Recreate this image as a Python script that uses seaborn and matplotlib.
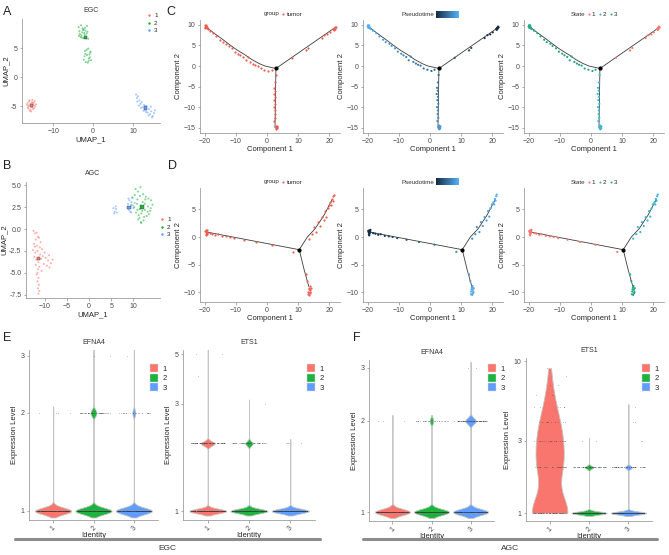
import numpy as np
import pandas as pd
import matplotlib
matplotlib.use("Agg")
import matplotlib.pyplot as plt
from matplotlib.colors import LinearSegmentedColormap, Normalize
from matplotlib.cm import ScalarMappable
from matplotlib.lines import Line2D
from matplotlib.patches import Patch
from matplotlib.ticker import NullLocator
import seaborn as sns

W, H = 669, 555
ids = ["1", "2", "3"]
cluster_colors = {"1": "#F8766D", "2": "#1DB33E", "3": "#619CFF"}
state_colors = {"1": "#F8766D", "2": "#35B9D5", "3": "#22A884"}
tumor_red = "#EE5A4E"

# ---- UMAP EGC (A)
egc_c1_x = [-16.5, -16.2, -16.0, -15.8, -15.6, -15.4, -15.2, -15.0, -14.8, -14.5, -14.3, -16.3,
            -15.9, -15.5, -15.1, -14.7, -16.1, -15.7, -15.3, -14.9, -15.6, -15.2, -16.4, -14.6]
egc_c1_y = [-4.8, -5.4, -4.2, -5.8, -4.6, -5.1, -3.9, -5.5, -4.4, -5.0, -4.7, -5.2,
            -4.0, -5.9, -4.5, -5.3, -4.9, -5.6, -4.3, -4.8, -5.0, -5.2, -4.5, -4.1]
egc_c2_x = [-3.6, -3.3, -3.0, -2.8, -2.5, -2.2, -2.0, -1.7, -1.4, -1.2, -3.4, -2.9, -2.4, -1.9,
            -1.5, -3.1, -2.6, -2.1, -1.6, -3.5, -2.7, -2.3,
            -2.3, -2.0, -1.8, -1.5, -1.2, -1.0, -0.7, -0.5, -2.1, -1.6, -1.3, -0.9, -0.6, -1.9, -1.1, -0.8]
egc_c2_y = [8.6, 7.4, 8.9, 6.8, 8.1, 7.6, 8.5, 7.0, 7.8, 6.6, 7.9, 7.2, 6.7, 8.0,
            8.8, 6.9, 8.4, 7.3, 7.5, 7.1, 7.7, 8.2,
            3.0, 4.5, 2.6, 3.8, 4.9, 3.2, 4.2, 2.9, 3.6, 4.7, 2.5, 3.9, 4.4, 4.0, 2.8, 3.4]
egc_c3_x = [10.8, 11.0, 11.3, 11.1, 11.6, 11.9, 12.2, 12.5, 12.8, 13.1, 13.4, 13.7, 14.0,
            14.3, 14.6, 15.0, 15.3, 12.0, 12.7, 13.3, 13.9, 14.5, 11.5, 15.5, 14.8]
egc_c3_y = [-3.0, -3.6, -3.3, -4.2, -4.0, -4.6, -4.3, -5.2, -4.8, -5.6, -5.0, -6.1, -5.5,
            -6.4, -5.9, -6.7, -6.2, -5.3, -5.8, -6.0, -6.6, -5.1, -4.9, -5.7, -6.9]

# ---- UMAP AGC (B)
agc_c1_x = [-12.5, -12.2, -11.8, -11.5, -12.0, -11.3, -10.9, -12.4, -11.7, -11.1, -10.6, -12.6,
            -12.1, -11.6, -11.0, -10.4, -9.8, -9.2, -8.6, -8.2, -12.3, -11.9, -11.4, -10.8,
            -10.2, -9.5, -8.9, -12.0, -11.5, -11.2, -10.7, -11.8, -11.4, -11.6, -11.3, -11.5,
            -11.2, -11.4, -11.6, -12.2, -10.0, -9.0]
agc_c1_y = [-0.2, -0.5, -0.4, -0.9, -1.2, -1.0, -1.5, -1.7, -1.9, -2.1, -2.3, -2.4,
            -2.7, -2.5, -2.9, -3.1, -3.3, -3.6, -3.9, -3.5, -3.2, -3.5, -3.8, -3.4,
            -4.0, -4.2, -4.4, -4.1, -4.6, -4.3, -4.8, -5.2, -5.6, -6.0, -6.4, -6.8,
            -7.1, -7.4, -5.0, -2.0, -2.7, -3.0]
agc_c2_x = [10.5, 11.0, 11.6, 12.2, 12.8, 13.4, 14.0, 14.3, 9.8, 10.3, 10.9, 11.5, 12.1,
            12.7, 13.3, 13.9, 9.5, 10.2, 10.8, 11.4, 12.0, 12.6, 13.2, 13.8, 10.6, 11.2,
            11.8, 12.4, 13.0, 11.1, 11.7, 12.3, 11.4, 12.0, 10.9, 12.6, 13.5, 11.8]
agc_c2_y = [4.6, 4.3, 4.8, 4.0, 3.7, 3.5, 3.3, 2.8, 3.6, 3.9, 3.4, 3.8, 3.1,
            3.4, 2.6, 2.4, 2.8, 2.5, 2.9, 2.3, 2.6, 2.2, 2.0, 2.1, 1.9, 1.6,
            1.8, 1.4, 1.5, 1.1, 0.8, 1.0, 1.3, 2.1, 2.2, 2.9, 1.7, 0.7]
agc_c3_x = [5.5, 5.8, 6.1, 6.3, 5.7, 6.0, 8.8, 9.1, 9.4, 9.7, 10.0, 10.3, 9.0, 9.5, 9.9, 8.9, 9.3, 9.6]
agc_c3_y = [2.4, 2.0, 2.3, 1.9, 1.8, 2.6, 2.9, 3.3, 2.6, 3.6, 2.4, 3.0, 2.2, 1.9, 2.7, 3.5, 2.0, 3.1]

# ---- trajectory EGC (C)
c_left_x = [2.9, -0.6, -2.5, -4.9, -7.0, -9.8, -12.0, -14.6, -17.0, -19.7]
c_left_y = [-0.6, 0.0, 0.6, 1.6, 2.7, 4.0, 5.2, 6.7, 8.0, 9.6]
c_right_x = [2.9, 21.4]
c_right_y = [-0.6, 9.1]
c_down_x = [2.9, 2.6]
c_down_y = [-0.6, -15.0]
c_cell_x = [21.3, 21.6, 21.9, 22.1, 21.5, 21.8,
            20.2, 19.4, 18.5, 17.6, 13.3, 12.6, 8.0,
            1.5, 0.5,
            -0.8, -2.0, -3.0, -3.8, -4.5, -5.3, -6.2, -6.8, -7.6, -8.5, -9.2, -10.3, -11.2, -12.3,
            -13.0, -14.2, -15.0, -16.2, -17.2, -18.3, -19.0, -19.3, -19.6, -19.8, -20.0, -19.5, -19.9, -19.4,
            2.8, 2.6, 2.3, 2.5, 2.2, 2.6, 2.4, 2.7, 2.3, 2.6, 2.5, 2.7, 2.4, 3.0, 3.2, 2.8, 3.3, 3.0, 2.9, 3.4]
c_cell_y = [9.0, 9.3, 9.6, 9.4, 8.8, 9.1,
            8.2, 7.7, 7.5, 6.8, 4.4, 3.8, 2.0,
            -0.9, -1.2,
            -0.9, -0.6, 0.1, 0.3, 0.6, 1.0, 2.3, 1.4, 2.2, 2.6, 3.0, 3.5, 4.3, 4.9,
            5.4, 5.8, 6.4, 7.2, 8.0, 8.6, 9.0, 9.4, 9.7, 9.3, 9.6, 9.9, 9.9, 9.2,
            -2.2, -4.0, -5.3, -6.0, -6.8, -7.5, -8.3, -9.2, -10.0, -10.8, -11.7, -12.6, -13.4, -14.5,
            -14.9, -15.1, -15.2, -15.4, -14.8, -14.7]
c_cell_pt = [0.5, 0.3, 0.0, 0.0, 0.8, 0.2,
             2, 3, 4, 5, 9.5, 10.5, 15,
             21, 22,
             23, 24, 25, 26, 27, 28, 28.5, 29, 30, 31, 32, 33, 34, 35,
             36, 37, 38, 39, 40, 41, 42, 43, 44, 44, 45, 44.5, 45, 43.5,
             22.5, 24, 25, 26, 26.5, 27, 28, 29, 30, 31, 32, 33, 34, 35.5, 36, 36, 36.5, 37, 36, 36]
c_cell_state = ["1"] * 13 + ["3"] * 30 + ["2"] * 20

# ---- trajectory AGC (D)
d_left_x = [10.4, -19.3]
d_left_y = [-2.3, 0.9]
d_up_x = [10.4, 13.0, 15.5, 18.4, 21.0]
d_up_y = [-2.3, 0.0, 1.5, 4.0, 6.8]
d_down_x = [10.4, 12.0, 13.5]
d_down_y = [-2.3, -6.0, -9.0]
d_cell_x = [-19.5, -19.3, -19.6, -19.2, -19.4, -19.7, -19.1, -19.5, -19.8,
            -18.2, -17.5, -16.6, -15.8, -14.5, -13.2, -12.0, -10.5, -7.5, -3.5, 1.5, 8.5,
            13.6, 14.6, 15.1, 15.9, 16.4, 17.0, 17.6, 18.2, 18.7, 19.1, 19.5, 19.9, 20.4, 20.9,
            21.3, 20.7, 21.5, 21.1,
            12.6, 13.0, 13.5, 13.8, 13.3, 13.9, 13.6, 14.1, 13.2, 13.7, 14.0, 13.4]
d_cell_y = [1.2, 0.8, 0.5, 1.0, 0.6, 0.9, 1.3, 0.3, 1.1,
            0.7, 0.6, 0.4, 0.5, 0.2, 0.1, 0.0, -0.2, -0.5, -0.9, -1.4, -2.7,
            -0.3, 0.5, 1.8, 0.9, 2.7, 2.0, 3.6, 3.0, 4.7, 3.7, 5.2, 5.9, 6.3, 6.9,
            7.4, 5.9, 7.7, 6.6,
            -6.8, -8.0, -9.2, -9.6, -9.9, -10.2, -10.5, -9.3, -10.4, -8.9, -10.0, -9.5]
d_cell_pt = [0, 0.3, 0.2, 0.5, 0.4, 0, 0.6, 0.3, 0,
             1.5, 2.2, 3, 3.8, 5, 6.3, 7.5, 9, 12, 16, 21, 28,
             30, 31, 32, 32.5, 33.5, 34, 35, 35.5, 36.5, 37, 38, 39, 39.5, 40.5,
             41, 40, 42, 41,
             35, 36, 37.5, 38, 38, 38.5, 38.5, 38, 38.5, 37.5, 38.5, 38]
d_cell_state = ["1"] * 21 + ["2"] * 18 + ["3"] * 12

# ---- violin counts (cells per expression level, per identity)
efna4_egc_levels = [1, 2, 3]
efna4_egc_c1 = [300, 4, 0]
efna4_egc_c2 = [300, 50, 2]
efna4_egc_c3 = [300, 25, 1]
ets1_egc_levels = [1, 2, 3, 4, 5]
ets1_egc_c1 = [300, 110, 0, 1, 2]
ets1_egc_c2 = [300, 60, 1, 0, 0]
ets1_egc_c3 = [300, 5, 0, 0, 0]
efna4_agc_levels = [1, 2, 3]
efna4_agc_c1 = [300, 3, 0]
efna4_agc_c2 = [300, 30, 0]
efna4_agc_c3 = [300, 90, 2]
ets1_agc_levels = [1, 2, 3, 4, 5, 6, 7, 8, 9]
ets1_agc_c1 = [60, 34, 26, 14, 7, 3, 2, 1, 1]
ets1_agc_c2 = [300, 70, 2, 0, 0, 0, 0, 0, 0]
ets1_agc_c3 = [300, 60, 2, 2, 1, 0, 0, 0, 0]

np.random.seed(3)
sns.set_theme(style="ticks")
plt.rcParams["font.family"] = ["Liberation Sans", "DejaVu Sans"]

fig = plt.figure(figsize=(W / 100, H / 100), dpi=100)
pt_cmap = LinearSegmentedColormap.from_list("pt", ["#132B43", "#56B1F7"])


def add_ax(l, t, r, b):
    return fig.add_axes([l / W, 1 - b / H, (r - l) / W, (b - t) / H])


def style(ax):
    sns.despine(ax=ax)
    for s in ("left", "bottom"):
        ax.spines[s].set_color("#8a8a8a")
        ax.spines[s].set_linewidth(0.5)
    ax.tick_params(length=1.8, width=0.5, color="#8a8a8a", labelsize=5, labelcolor="#4a4a4a", pad=1.5)


def fig_legend(ax, handles, labels, x, y, **kw):
    opts = dict(loc="center left", bbox_to_anchor=(x / W, 1 - y / H), bbox_transform=fig.transFigure,
                frameon=False, borderpad=0, borderaxespad=0, fontsize=4.5)
    opts.update(kw)
    ax.legend(handles, labels, **opts)


def dot(c, ms=1.8):
    return Line2D([], [], marker="o", ls="none", ms=ms, color=c, mew=0)


def umap_panel(rect, parts, title, xlim, ylim, xticks, yticks, ylabels, leg_xy):
    ax = add_ax(*rect)
    df = pd.concat([pd.DataFrame({"UMAP_1": px, "UMAP_2": py, "cluster": c})
                    for c, (px, py) in parts.items()])
    sns.scatterplot(data=df, x="UMAP_1", y="UMAP_2", hue="cluster", palette=cluster_colors,
                    s=2.2, linewidth=0, alpha=0.55, legend=False, ax=ax)
    med = df.groupby("cluster")[["UMAP_1", "UMAP_2"]].median().reset_index()
    sns.scatterplot(data=med, x="UMAP_1", y="UMAP_2", hue="cluster", palette=cluster_colors,
                    s=6, marker="s", edgecolor="#444444", linewidth=0.3, legend=False, ax=ax)
    ax.set_xlim(xlim)
    ax.set_ylim(ylim)
    ax.set_xticks(xticks)
    ax.set_yticks(yticks)
    ax.set_yticklabels(ylabels)
    ax.set_title(title, fontsize=5, pad=5, color="#333333")
    ax.set_xlabel("UMAP_1", fontsize=5.5, labelpad=1)
    ax.set_ylabel("UMAP_2", fontsize=5.5, labelpad=1)
    style(ax)
    fig_legend(ax, [dot(cluster_colors[c]) for c in ids], ids, *leg_xy,
               handlelength=0.8, handletextpad=0.5, labelspacing=0.35)
    return ax


def trajectory(rect, cells, branches, mode, ylim, yticks, pt_max):
    ax = add_ax(*rect)
    for bx, by in branches:
        ax.plot(bx, by, color="#3c3c3c", lw=0.6, zorder=1)
    kw = dict(data=cells, x="Component 1", y="Component 2", s=2.5, linewidth=0, ax=ax, zorder=2, legend=False)
    if mode == "group":
        sns.scatterplot(color=tumor_red, **kw)
    elif mode == "pt":
        sns.scatterplot(hue="Pseudotime", palette=pt_cmap, hue_norm=(0, pt_max), **kw)
    else:
        sns.scatterplot(hue="State", palette=state_colors, **kw)
    ax.scatter([branches[0][0][0]], [branches[0][1][0]], s=4, color="black", zorder=3)
    ax.set_xlim(-21.5, 23.5)
    ax.set_ylim(ylim)
    ax.set_xticks([-20, -10, 0, 10, 20])
    ax.set_yticks(yticks)
    ax.set_xlabel("Component 1", fontsize=5.5, labelpad=1)
    ax.set_ylabel("Component 2", fontsize=5.5, labelpad=1)
    style(ax)
    return ax


spike_bw = lambda k: 0.01 / np.std(k.dataset)


def violin_panel(rect, levels, counts, title, ylim, yticks, leg_x, smooth_first=False):
    ax = add_ax(*rect)
    df = pd.DataFrame({
        "Identity": np.repeat(ids, [sum(c) for c in counts]),
        "Expression Level": np.concatenate([np.repeat(levels, c) for c in counts]).astype(float),
    })
    common = dict(x="Identity", y="Expression Level", hue="Identity", order=ids, hue_order=ids,
                  palette=cluster_colors, density_norm="width", inner=None, linecolor="#c4c4c4",
                  linewidth=0.6, saturation=1, width=0.9, gridsize=600, log_scale=True,
                  legend=False, ax=ax)
    if smooth_first:
        sns.violinplot(data=df[df["Identity"] == "1"], cut=0, bw_adjust=1.2, **common)
        sns.violinplot(data=df[df["Identity"] != "1"], cut=2, bw_method=spike_bw, **common)
    else:
        sns.violinplot(data=df, cut=2, bw_method=spike_bw, **common)
    sns.stripplot(data=df, x="Identity", y="Expression Level", order=ids, jitter=0.42, size=0.6,
                  color="#555555", alpha=0.3, linewidth=0, ax=ax)
    ax.set_yscale("log")
    ax.set_xlim(-0.6, 2.6)
    ax.set_ylim(ylim)
    ax.set_yticks(yticks)
    ax.set_yticklabels([str(t) for t in yticks])
    ax.yaxis.set_minor_locator(NullLocator())
    for lbl in ax.get_xticklabels():
        lbl.set_rotation(45)
    ax.set_title(title, fontsize=5, pad=4, color="#333333")
    ax.set_xlabel("Identity", fontsize=5.5, labelpad=0)
    ax.set_ylabel("Expression Level", fontsize=5.5, labelpad=2)
    style(ax)
    fig_legend(ax, [Patch(facecolor=cluster_colors[c], edgecolor="#dddddd", lw=0.3) for c in ids], ids,
               leg_x, 378, loc="center left", fontsize=5.5, handlelength=1.0, handleheight=1.2,
               handletextpad=0.6, labelspacing=0.15)
    return ax


# ---- A / B
umap_panel((22, 19, 160, 123),
           {"1": (egc_c1_x, egc_c1_y), "2": (egc_c2_x, egc_c2_y), "3": (egc_c3_x, egc_c3_y)},
           "EGC", (-17.8, 16.8), (-7.9, 10), [-10, 0, 10], [-5, 0, 5], ["-5", "0", "5"], (146, 23))
umap_panel((26, 182, 160, 298),
           {"1": (agc_c1_x, agc_c1_y), "2": (agc_c2_x, agc_c2_y), "3": (agc_c3_x, agc_c3_y)},
           "AGC", (-14.2, 16.0), (-7.9, 5.4), [-10, -5, 0, 5, 10], [5, 2.5, 0, -2.5, -5, -7.5],
           ["5.0", "2.5", "0.0", "-2.5", "-5.0", "-7.5"], (159, 227))

# ---- C / D
c_cells = pd.DataFrame({"Component 1": c_cell_x, "Component 2": c_cell_y,
                        "Pseudotime": c_cell_pt, "State": c_cell_state})
d_cells = pd.DataFrame({"Component 1": d_cell_x, "Component 2": d_cell_y,
                        "Pseudotime": d_cell_pt, "State": d_cell_state})
c_branches = [(c_left_x, c_left_y), (c_right_x, c_right_y), (c_down_x, c_down_y)]
d_branches = [(d_left_x, d_left_y), (d_up_x, d_up_y), (d_down_x, d_down_y)]
c_pt_max = max(c_cell_pt)
d_pt_max = max(d_cell_pt)

lefts = [200, 363, 524]
for row, (cells, branches, top, bottom, ylim, yticks, pt_max, ly) in enumerate([
        (c_cells, c_branches, 20, 133, (-16.3, 11.2), [-15, -10, -5, 0, 5, 10], c_pt_max, 14),
        (d_cells, d_branches, 188, 302, (-11.8, 8.9), [-10, -5, 0, 5], d_pt_max, 182)]):
    for mode, l in zip(["group", "pt", "state"], lefts):
        ax = trajectory((l, top, l + 140, bottom), cells, branches, mode, ylim, yticks, pt_max)
        if mode == "group":
            fig.text((l + 64) / W, 1 - ly / H, "group", fontsize=4.5, va="center", color="#333333")
            fig_legend(ax, [dot(tumor_red, 1.5)], ["tumor"], l + 81, ly, handlelength=0.6, handletextpad=0.3)
        elif mode == "pt":
            fig.text((l + 38) / W, 1 - ly / H, "Pseudotime", fontsize=4.5, va="center", color="#333333")
            cax = fig.add_axes([(l + 73) / W, 1 - (ly + 3.5) / H, 23 / W, 7 / H])
            cb = fig.colorbar(ScalarMappable(norm=Normalize(0, pt_max), cmap=pt_cmap), cax=cax,
                              orientation="horizontal")
            cb.set_ticks([])
            cb.outline.set_visible(False)
        else:
            fig.text((l + 47) / W, 1 - ly / H, "State", fontsize=4.5, va="center", color="#333333")
            fig_legend(ax, [dot(state_colors[s], 1.5) for s in ids], ids, l + 63, ly, ncol=3,
                       handlelength=0.5, handletextpad=0.2, columnspacing=0.5)

# ---- E / F
violin_panel((29, 350, 158, 520), efna4_egc_levels, [efna4_egc_c1, efna4_egc_c2, efna4_egc_c3],
             "EFNA4", (0.938, 3.12), [1, 2, 3], 150)
violin_panel((183, 350, 315, 520), ets1_egc_levels, [ets1_egc_c1, ets1_egc_c2, ets1_egc_c3],
             "ETS1", (0.912, 5.22), [1, 3, 5], 307)
violin_panel((369, 360, 494, 521), efna4_agc_levels, [efna4_agc_c1, efna4_agc_c2, efna4_agc_c3],
             "EFNA4", (0.934, 3.18), [1, 2, 3], 488)
violin_panel((526, 358, 652, 521), ets1_agc_levels, [ets1_agc_c1, ets1_agc_c2, ets1_agc_c3],
             "ETS1", (0.886, 10.5), [1, 3, 10], 642, smooth_first=True)

# group bars under E / F
for x0, x1, name in [(15, 320, "EGC"), (363, 657, "AGC")]:
    fig.add_artist(Line2D([x0 / W, x1 / W], [1 - 539 / H] * 2, color="#8c8c8c", lw=2.2))
    fig.text((x0 + x1) / 2 / W, 1 - 549 / H, name, fontsize=6, ha="center", va="center", color="#333333")

for letter, x, y in [("A", 3, 12), ("B", 3, 166), ("C", 166, 12), ("D", 168, 166), ("E", 3, 338), ("F", 353, 338)]:
    fig.text(x / W, 1 - y / H, letter, fontsize=9, va="center", ha="left", color="#222222")

fig.savefig("out.png", dpi=100)
